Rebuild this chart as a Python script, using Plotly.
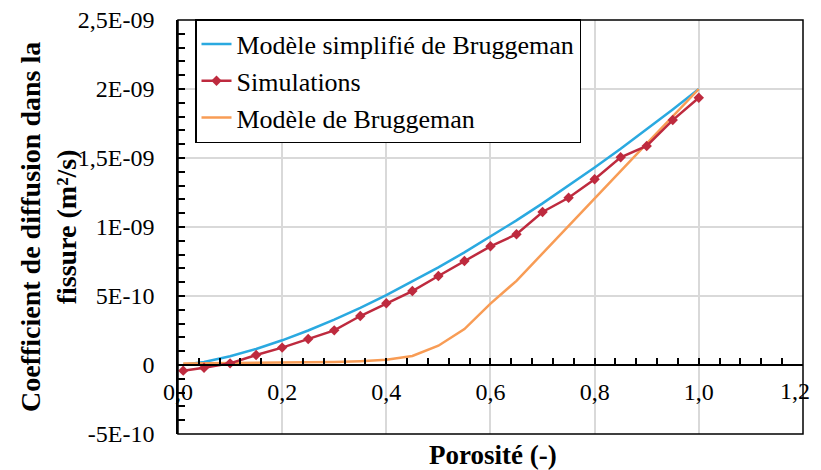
import plotly.graph_objects as go

# ---- data ----
porosity = [0.01, 0.05, 0.10, 0.15, 0.20, 0.25, 0.30, 0.35, 0.40, 0.45, 0.50,
            0.55, 0.60, 0.65, 0.70, 0.75, 0.80, 0.85, 0.90, 0.95, 1.00]

bruggeman_simplifie = [2e-12, 2.2e-11, 6.3e-11, 1.16e-10, 1.79e-10, 2.50e-10, 3.29e-10,
                       4.14e-10, 5.06e-10, 6.04e-10, 7.07e-10, 8.16e-10, 9.30e-10,
                       1.048e-9, 1.171e-9, 1.299e-9, 1.431e-9, 1.567e-9, 1.708e-9,
                       1.852e-9, 2.0e-9]

simulations = [-4.1e-11, -2.0e-11, 1.2e-11, 7.2e-11, 1.26e-10, 1.88e-10, 2.51e-10,
               3.55e-10, 4.47e-10, 5.36e-10, 6.45e-10, 7.54e-10, 8.60e-10,
               9.47e-10, 1.109e-9, 1.212e-9, 1.346e-9, 1.505e-9, 1.587e-9,
               1.775e-9, 1.937e-9]

bruggeman = [1.0e-11, 1.1e-11, 1.2e-11, 1.3e-11, 1.5e-11, 1.8e-11, 2.2e-11, 2.8e-11,
             3.8e-11, 6.5e-11, 1.40e-10, 2.60e-10, 4.45e-10, 6.10e-10, 8.10e-10,
             1.010e-9, 1.208e-9, 1.406e-9, 1.604e-9, 1.802e-9, 2.0e-9]

x_tickvals = [0.0, 0.2, 0.4, 0.6, 0.8, 1.0, 1.2]
x_ticktext = ["0,0", "0,2", "0,4", "0,6", "0,8", "1,0", "1,2"]
y_tickvals = [-5e-10, 0, 5e-10, 1e-9, 1.5e-9, 2e-9, 2.5e-9]
y_ticktext = ["-5E-10", "0", "5E-10", "1E-09", "1,5E-09", "2E-09", "2,5E-09"]

names = ["Modèle simplifié de Bruggeman", "Simulations", "Modèle de Bruggeman"]
x_title = "Porosité (-)"
y_title = "Coefficient de diffusion dans la<br>fissure (m²/s)"

FONT = "Liberation Serif"
BLUE = "#2AA9E0"
RED = "#BE2A3E"
ORANGE = "#F89C55"

# the page body has an 8px default margin, so everything is placed 8px up/left
W, H = 821, 462
L, R, T, B = 170, 26, 12, 36
PW, PH = W - L - R, H - T - B

fig = go.Figure()
fig.add_trace(go.Scatter(x=porosity, y=bruggeman_simplifie, name=names[0], mode="lines",
                         line=dict(color=BLUE, width=2.5), legendrank=1))
fig.add_trace(go.Scatter(x=porosity, y=bruggeman, name=names[2], mode="lines",
                         line=dict(color=ORANGE, width=2.5), legendrank=3))
fig.add_trace(go.Scatter(x=porosity, y=simulations, name=names[1], mode="lines+markers",
                         line=dict(color=RED, width=2.5),
                         marker=dict(symbol="diamond", size=8, color=RED), legendrank=2))

# last x tick label is drawn as an annotation so it is not clipped at the window edge
shown_x_ticktext = x_ticktext[:-1] + [""]

fig.update_layout(
    width=W, height=H,
    margin=dict(l=L, r=R, t=T, b=B, autoexpand=False),
    paper_bgcolor="white", plot_bgcolor="white",
    font=dict(family=FONT, size=24, color="black"),
    showlegend=True,
    legend=dict(x=(187 - L) / PW, y=1 - (73 - T) / PH, xanchor="left", yanchor="middle",
                bgcolor="white", bordercolor="black", borderwidth=1.5,
                font=dict(family=FONT, size=26, color="black"),
                tracegroupgap=0, itemwidth=30),
    xaxis=dict(range=[0, 1.2001], anchor="free", position=1/6, automargin=False,
               tickvals=x_tickvals, ticktext=shown_x_ticktext,
               showgrid=True, gridcolor="#D9D9D9", gridwidth=1.5,
               showline=True, linecolor="black", linewidth=1.5,
               ticks="inside", ticklen=6, tickcolor="black", tickwidth=1.5,
               minor=dict(dtick=0.04, tick0=0, ticks="inside", ticklen=6,
                          tickcolor="black", tickwidth=1.5, showgrid=False),
               ticklabelstandoff=5, ticklabeloverflow="allow", zeroline=False,
               tickfont=dict(family=FONT, size=24)),
    yaxis=dict(range=[-5e-10, 2.5e-9], automargin=False,
               tickvals=y_tickvals, ticktext=y_ticktext,
               showgrid=True, gridcolor="#D9D9D9", gridwidth=1.5,
               showline=True, linecolor="black", linewidth=1.5,
               ticks="inside", ticklen=7, tickcolor="black", tickwidth=1.5,
               minor=dict(dtick=1e-10, tick0=0, ticks="inside", ticklen=7,
                          tickcolor="black", tickwidth=1.5, showgrid=False),
               ticklabelstandoff=17, ticklabeloverflow="allow", zeroline=False,
               tickfont=dict(family=FONT, size=24)),
    shapes=[dict(type="rect", xref="paper", yref="paper", x0=0, x1=1, y0=0, y1=1,
                 line=dict(color="black", width=1.5), layer="above")],
    annotations=[
        dict(text=x_ticktext[-1], xref="paper", yref="paper",
             x=(804 - L) / PW, y=(H - B - 383) / PH, xanchor="right", yanchor="middle",
             showarrow=False, font=dict(family=FONT, size=24)),
        dict(text=f"<b>{x_title}</b>", xref="paper", yref="paper",
             x=(485 - L) / PW, y=(H - B - 447) / PH, xanchor="center", yanchor="middle",
             showarrow=False, font=dict(family=FONT, size=27)),
        dict(text=f"<b>{y_title}</b>", xref="paper", yref="paper",
             x=(40 - L) / PW, y=(H - B - 219) / PH, xanchor="center", yanchor="middle",
             textangle=-90, showarrow=False, font=dict(family=FONT, size=28)),
    ],
)

fig.write_html("out.html")
